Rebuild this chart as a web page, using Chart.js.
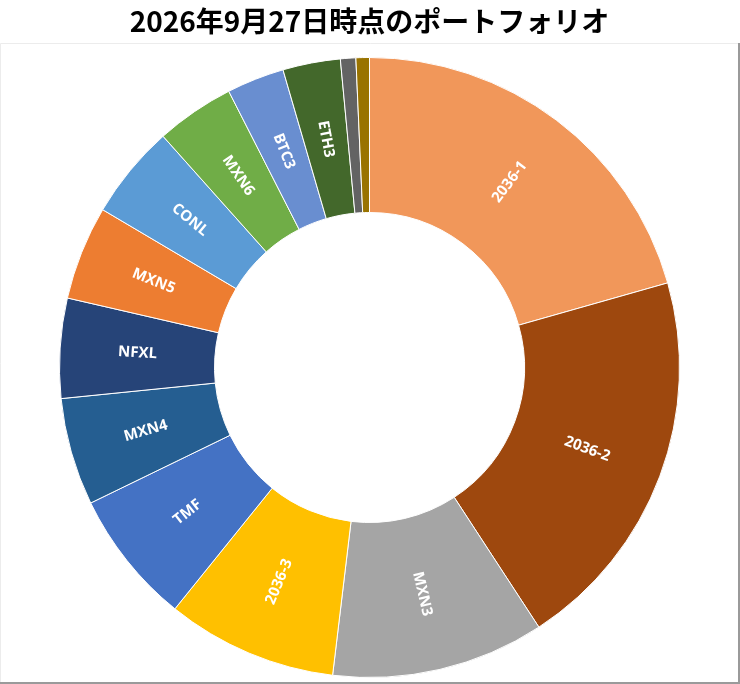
<!DOCTYPE html>
<html>
<head>
<meta charset="utf-8">
<script src="https://cdn.jsdelivr.net/npm/chart.js@4/dist/chart.umd.min.js"></script>
<style>
  body { margin: 0; background: #fff; }
  #wrap { position: relative; width: 740px; height: 684px; }
</style>
</head>
<body>
<div id="wrap"><canvas id="portfolio"></canvas></div>
<script>
const TITLE = "2026年9月27日時点のポートフォリオ";
const LABELS = ["2036-1", "2036-2", "MXN3", "2036-3", "TMF", "MXN4", "NFXL", "MXN5", "CONL", "MXN6", "BTC3", "ETH3", "その他1", "その他2"];
const SHARES = [20.6, 20.2, 11.1, 8.9, 7.0, 5.6, 5.2, 4.9, 4.9, 4.1, 3.0, 3.0, 0.8, 0.7];
const COLORS = ["#F1975A", "#9E480E", "#A5A5A5", "#FFC000", "#4472C4", "#255E91", "#264478",
  "#ED7D31", "#5B9BD5", "#70AD47", "#698ED0", "#43682B", "#636363", "#997300"];

// white background + the thin frame under the title
const frame = {
  id: "frame",
  beforeDraw(chart) {
    const ctx = chart.ctx;
    const w = chart.width, h = chart.height;
    ctx.save();
    ctx.fillStyle = "#fff";
    ctx.fillRect(0, 0, w, h);
    ctx.lineWidth = 1;
    ctx.strokeStyle = "#ececec";
    ctx.beginPath();
    ctx.moveTo(0.5, h);
    ctx.lineTo(0.5, 43.5);
    ctx.lineTo(w, 43.5);
    ctx.stroke();
    ctx.strokeStyle = "#9a9a9a";
    ctx.lineWidth = 2;
    ctx.beginPath();
    ctx.moveTo(w - 1, 43);
    ctx.lineTo(w - 1, h - 1);
    ctx.lineTo(0, h - 1);
    ctx.stroke();
    ctx.restore();
  }
};

// labels along the radius, turned so they stay readable
const sliceLabels = {
  id: "sliceLabels",
  afterDatasetsDraw(chart) {
    const ctx = chart.ctx;
    const meta = chart.getDatasetMeta(0);
    ctx.save();
    ctx.fillStyle = "#fff";
    ctx.font = "bold 15px 'Open Sans'";
    ctx.textAlign = "center";
    ctx.textBaseline = "middle";
    meta.data.forEach((arc, i) => {
      if (SHARES[i] < 2) return;
      const pos = arc.tooltipPosition();
      let angle = (arc.startAngle + arc.endAngle) / 2;
      if (Math.cos(angle) < 0) angle += Math.PI;
      ctx.save();
      ctx.translate(pos.x, pos.y);
      ctx.rotate(angle);
      ctx.fillText(LABELS[i], 0, 0);
      ctx.restore();
    });
    ctx.restore();
  }
};

new Chart(
  document.getElementById("portfolio"),
  {
    type: "doughnut",
    data: {
      labels: LABELS,
      datasets: [{
        data: SHARES,
        backgroundColor: COLORS,
        borderColor: "#ffffff",
        borderWidth: 1
      }]
    },
    options: {
      responsive: true,
      maintainAspectRatio: false,
      animation: false,
      cutout: "50%",
      layout: {
        padding: { left: 59, right: 60, top: 0, bottom: 6 }
      },
      plugins: {
        legend: { display: false },
        tooltip: { enabled: false },
        title: {
          display: true,
          text: TITLE,
          color: "#000",
          font: { family: "'Noto Sans CJK JP'", size: 28, weight: "bold" },
          padding: { top: 5, bottom: 18.4 }
        }
      }
    },
    plugins: [frame, sliceLabels]
  }
);
</script>
</body>
</html>
